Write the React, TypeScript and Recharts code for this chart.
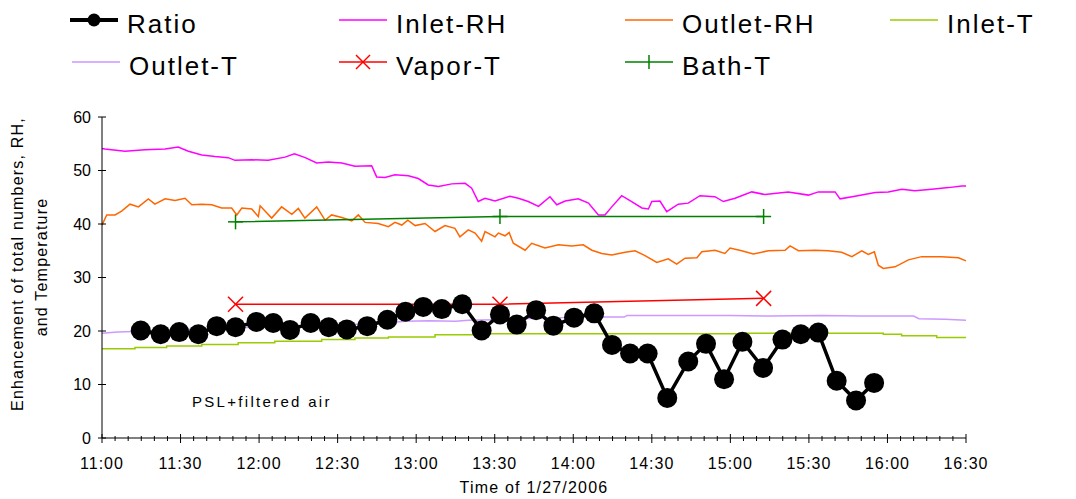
import { Line, LineChart, XAxis, YAxis } from 'recharts';

// minutes after 11:00 on 1/27/2006
const ratioTimes = [14.8, 22.4, 29.5, 36.8, 43.8, 51.0, 59.0, 65.4, 71.8, 79.7, 86.6, 93.5, 101.3, 109.0, 115.9, 122.7, 129.8, 137.6, 145.0, 152.0, 158.4, 165.8, 172.4, 180.3, 188.0, 194.8, 201.7, 208.4, 215.9, 223.9, 230.7, 237.6, 244.6, 252.5, 259.9, 266.9, 273.6, 280.6, 288.0, 294.9];
const ratioValues = [20.1, 19.4, 19.8, 19.4, 20.9, 20.7, 21.7, 21.5, 20.2, 21.5, 20.7, 20.3, 20.9, 22.1, 23.6, 24.5, 24.1, 25.0, 20.1, 23.1, 21.2, 23.9, 21.0, 22.5, 23.3, 17.4, 15.8, 15.8, 7.5, 14.3, 17.6, 11.0, 18.0, 13.1, 18.4, 19.4, 19.7, 10.7, 7.0, 10.3];

const inletRhTimes = [0, 1.1, 8.8, 16.4, 24.1, 29.1, 33.0, 38.1, 43.2, 48.2, 50.8, 57.2, 63.5, 69.9, 73.5, 77.6, 82.0, 86.4, 91.6, 96.6, 103.0, 104.9, 108.1, 111.9, 117.0, 120.8, 124.6, 128.5, 133.6, 138.7, 141.2, 143.7, 146.3, 150.1, 155.8, 159.0, 162.8, 166.7, 171.1, 173.7, 176.9, 181.9, 185.8, 189.6, 192.1, 194.7, 198.5, 202.3, 206.2, 208.7, 210.0, 213.1, 215.7, 220.1, 223.9, 228.4, 234.1, 237.3, 241.8, 248.2, 253.2, 262.1, 269.8, 273.6, 280.0, 281.9, 287.6, 295.3, 300.3, 305.5, 310.5, 316.9, 323.3, 328.4, 330];
const inletRhValues = [54.1, 54.0, 53.6, 53.9, 54.0, 54.4, 53.6, 52.9, 52.6, 52.4, 51.9, 52.0, 51.9, 52.5, 53.1, 52.4, 51.4, 51.6, 51.4, 50.8, 50.9, 48.8, 48.7, 49.2, 49.0, 48.5, 47.3, 47.0, 47.5, 47.6, 46.7, 44.2, 44.8, 44.3, 45.2, 44.8, 44.2, 43.3, 45.1, 43.6, 44.3, 44.7, 43.9, 41.7, 41.7, 43.2, 45.3, 44.2, 43.0, 42.8, 44.2, 44.3, 42.3, 43.7, 43.9, 45.3, 45.1, 44.2, 44.8, 46.0, 45.5, 46.0, 45.4, 46.0, 46.0, 44.7, 45.2, 45.9, 46.0, 46.5, 46.2, 46.5, 46.8, 47.1, 47.1];

const outletRhTimes = [0, 1.8, 5.0, 7.5, 10.7, 13.9, 17.7, 20.2, 24.1, 27.9, 31.7, 34.3, 38.1, 41.9, 45.7, 49.5, 51.5, 53.4, 57.2, 59.7, 60.4, 64.8, 68.6, 72.5, 75.0, 77.5, 82.0, 85.2, 87.7, 91.6, 95.4, 97.9, 100.5, 105.5, 109.4, 111.9, 114.5, 116.8, 119.6, 123.4, 127.2, 131.0, 134.8, 136.7, 139.9, 142.5, 145.0, 146.3, 150.1, 151.4, 153.9, 155.5, 157.1, 161.6, 164.1, 169.2, 174.3, 179.4, 183.8, 187.1, 190.9, 194.7, 199.8, 203.6, 207.4, 211.9, 216.3, 219.5, 222.7, 227.2, 229.1, 234.1, 237.9, 239.9, 244.3, 248.8, 254.5, 260.9, 262.8, 266.0, 272.3, 277.4, 282.5, 286.4, 290.2, 292.7, 295.0, 296.5, 298.4, 302.9, 308.0, 313.1, 320.7, 327.1, 330];
const outletRhValues = [39.8, 41.7, 41.7, 42.4, 43.7, 43.2, 44.7, 43.7, 44.7, 44.4, 44.8, 43.6, 43.7, 43.6, 43.0, 43.0, 41.7, 43.0, 42.8, 41.4, 43.4, 41.1, 43.2, 41.8, 42.9, 41.1, 43.2, 40.7, 41.7, 41.2, 40.6, 41.7, 40.3, 40.1, 39.5, 40.3, 39.8, 40.7, 39.7, 40.1, 38.6, 39.7, 39.2, 37.6, 38.9, 38.3, 36.8, 38.6, 37.6, 38.3, 37.8, 38.4, 36.4, 35.1, 36.4, 35.5, 36.1, 35.9, 36.1, 35.1, 34.5, 34.2, 34.7, 35.0, 34.1, 32.8, 33.5, 32.5, 33.6, 33.7, 34.8, 35.1, 34.5, 35.5, 35.0, 34.4, 35.0, 35.1, 35.9, 35.0, 35.1, 35.0, 34.7, 33.9, 35.0, 34.3, 34.8, 32.3, 31.7, 32.0, 33.3, 33.9, 33.9, 33.7, 33.1];

const inletTTimes = [0, 12.6, 24.7, 38.1, 52.0, 66.0, 83.9, 96.6, 109.4, 127.2, 147.6, 246.0, 298.4, 305.4, 318.8, 330];
const inletTValues = [16.7, 16.9, 17.2, 17.5, 17.8, 18.1, 18.4, 18.7, 18.9, 19.3, 19.5, 19.6, 19.4, 19.1, 18.8, 18.8];

const outletTTimes = [0, 6, 12, 20, 40, 60, 80, 100, 110, 116, 125, 135, 140, 150, 160, 175, 190, 199.5, 200.5, 240, 255, 275, 290, 310, 312, 322, 330];
const outletTValues = [19.6, 19.8, 19.9, 20.1, 20.4, 20.7, 21.0, 21.3, 21.6, 21.8, 21.9, 21.8, 22.0, 22.1, 22.3, 22.5, 22.6, 22.6, 22.9, 22.9, 22.8, 22.9, 22.8, 22.8, 22.3, 22.2, 22.0];

const vaporTimes = [51.0, 152.0, 252.7];
const vaporValues = [25.0, 25.0, 26.1];

const bathTimes = [51.0, 152.0, 252.7];
const bathValues = [40.4, 41.4, 41.4];

const xTicks = Array.from({ length: 67 }, (_, i) => i * 5);
const yTicks = [0, 10, 20, 30, 40, 50, 60];

const zip = (ts: number[], vs: number[]) => ts.map((t, i) => ({ t, v: vs[i] }));

const FONT = '"Liberation Sans", Arial, sans-serif';

function timeLabel(m: number) {
  const h = 11 + Math.floor(m / 60);
  const mm = m % 60;
  return `${h}:${String(mm).padStart(2, '0')}`;
}

function XTick(props: any) {
  const { x, y, payload } = props;
  const major = payload.value % 30 === 0;
  return (
    <g>
      <line x1={x} x2={x} y1={y - (major ? 4 : 2)} y2={y + (major ? 5 : 3)} stroke="#000" />
      {major && (
        <text x={x} y={y + 31} textAnchor="middle" fontSize={16} fontFamily={FONT} letterSpacing={1} fill="#000">
          {timeLabel(payload.value)}
        </text>
      )}
    </g>
  );
}

function YTick(props: any) {
  const { x, y, payload } = props;
  return (
    <g>
      <line x1={x - 4} x2={x + 4} y1={y} y2={y} stroke="#000" />
      <text x={x - 11} y={y + 5.5} textAnchor="end" fontSize={16} fontFamily={FONT} fill="#000">
        {payload.value}
      </text>
    </g>
  );
}

const RatioDot = (p: any) => <circle key={`r-${p.index}`} cx={p.cx} cy={p.cy} r={10} fill="#000" />;

const CrossDot = (p: any) => (
  <g key={`x-${p.index}`} stroke="#ff0000" strokeWidth={1.5}>
    <line x1={p.cx - 7.5} y1={p.cy - 7.5} x2={p.cx + 7.5} y2={p.cy + 7.5} />
    <line x1={p.cx - 7.5} y1={p.cy + 7.5} x2={p.cx + 7.5} y2={p.cy - 7.5} />
  </g>
);

const PlusDot = (p: any) => (
  <g key={`p-${p.index}`} stroke="#008000" strokeWidth={1.5}>
    <line x1={p.cx - 7.5} y1={p.cy} x2={p.cx + 7.5} y2={p.cy} />
    <line x1={p.cx} y1={p.cy - 7.5} x2={p.cx} y2={p.cy + 7.5} />
  </g>
);

const legendItems = [
  { name: 'Ratio', color: '#000000', x: 70, row: 0, mark: 'dot' },
  { name: 'Inlet-RH', color: '#ff00ff', x: 339, row: 0, mark: 'none' },
  { name: 'Outlet-RH', color: '#ff6600', x: 625, row: 0, mark: 'none' },
  { name: 'Inlet-T', color: '#99cc00', x: 890, row: 0, mark: 'none' },
  { name: 'Outlet-T', color: '#cc99ff', x: 72, row: 1, mark: 'none' },
  { name: 'Vapor-T', color: '#ff0000', x: 339, row: 1, mark: 'cross' },
  { name: 'Bath-T', color: '#008000', x: 625, row: 1, mark: 'plus' },
];

function Legend() {
  return (
    <svg width={1076} height={90} style={{ position: 'absolute', left: 0, top: 0 }}>
      {legendItems.map((it) => {
        const ly = it.row === 0 ? 20 : 62;
        const cx = it.x + 24;
        return (
          <g key={it.name}>
            <line x1={it.x} x2={it.x + 48} y1={ly} y2={ly} stroke={it.color} strokeWidth={it.mark === 'dot' ? 4 : 1.5} />
            {it.mark === 'dot' && <circle cx={cx} cy={ly} r={6.5} fill="#000" />}
            {it.mark === 'cross' && (
              <g stroke={it.color} strokeWidth={1.5}>
                <line x1={cx - 7} y1={ly - 7} x2={cx + 7} y2={ly + 7} />
                <line x1={cx - 7} y1={ly + 7} x2={cx + 7} y2={ly - 7} />
              </g>
            )}
            {it.mark === 'plus' && (
              <g stroke={it.color} strokeWidth={1.5}>
                <line x1={cx} y1={ly - 7} x2={cx} y2={ly + 7} />
              </g>
            )}
            <text x={it.x + 57} y={ly + 13} fontSize={26} fontFamily={FONT} letterSpacing={2} fill="#000">
              {it.name}
            </text>
          </g>
        );
      })}
    </svg>
  );
}

function Titles() {
  return (
    <svg width={1076} height={499} style={{ position: 'absolute', left: 0, top: 0, pointerEvents: 'none' }}>
      <text x={534} y={493} textAnchor="middle" fontSize={16} fontFamily={FONT} letterSpacing={1.2} fill="#000">
        Time of 1/27/2006
      </text>
      <text transform="translate(23,264) rotate(-90)" textAnchor="middle" fontSize={16} fontFamily={FONT} letterSpacing={1.2} fill="#000">
        Enhancement of total numbers, RH,
      </text>
      <text transform="translate(47,267) rotate(-90)" textAnchor="middle" fontSize={16} fontFamily={FONT} letterSpacing={1.2} fill="#000">
        and Temperature
      </text>
      <text x={192} y={407} fontSize={15} fontFamily={FONT} letterSpacing={2.3} fill="#000">
        PSL+filtered air
      </text>
    </svg>
  );
}

export default function App() {
  return (
    <div style={{ position: 'absolute', left: 0, top: 0, width: 1076, height: 499, background: '#fff' }}>
      <LineChart width={1076} height={499} margin={{ top: 117, right: 110, bottom: 0, left: 0 }}>
        <XAxis
          type="number"
          dataKey="t"
          domain={[0, 330]}
          ticks={xTicks}
          interval={0}
          height={61}
          tickSize={0}
          tickMargin={0}
          tickLine={false}
          tick={<XTick />}
          axisLine={{ stroke: '#000' }}
          allowDuplicatedCategory={false}
        />
        <YAxis
          type="number"
          domain={[0, 60]}
          ticks={yTicks}
          interval={0}
          width={102}
          tickSize={0}
          tickMargin={0}
          tickLine={false}
          tick={<YTick />}
          axisLine={{ stroke: '#000' }}
        />
        <Line data={zip(inletRhTimes, inletRhValues)} dataKey="v" name="Inlet-RH" stroke="#ff00ff" strokeWidth={1.5} dot={false} isAnimationActive={false} />
        <Line data={zip(outletRhTimes, outletRhValues)} dataKey="v" name="Outlet-RH" stroke="#ff6600" strokeWidth={1.5} dot={false} isAnimationActive={false} />
        <Line data={zip(inletTTimes, inletTValues)} dataKey="v" type="stepAfter" name="Inlet-T" stroke="#99cc00" strokeWidth={1.5} dot={false} isAnimationActive={false} />
        <Line data={zip(outletTTimes, outletTValues)} dataKey="v" name="Outlet-T" stroke="#cc99ff" strokeWidth={1.5} dot={false} isAnimationActive={false} />
        <Line data={zip(bathTimes, bathValues)} dataKey="v" name="Bath-T" stroke="#008000" strokeWidth={1.5} dot={PlusDot} isAnimationActive={false} />
        <Line data={zip(vaporTimes, vaporValues)} dataKey="v" name="Vapor-T" stroke="#ff0000" strokeWidth={1.5} dot={CrossDot} isAnimationActive={false} />
        <Line data={zip(ratioTimes, ratioValues)} dataKey="v" name="Ratio" stroke="#000" strokeWidth={3.5} dot={RatioDot} isAnimationActive={false} />
      </LineChart>
      <Legend />
      <Titles />
    </div>
  );
}
